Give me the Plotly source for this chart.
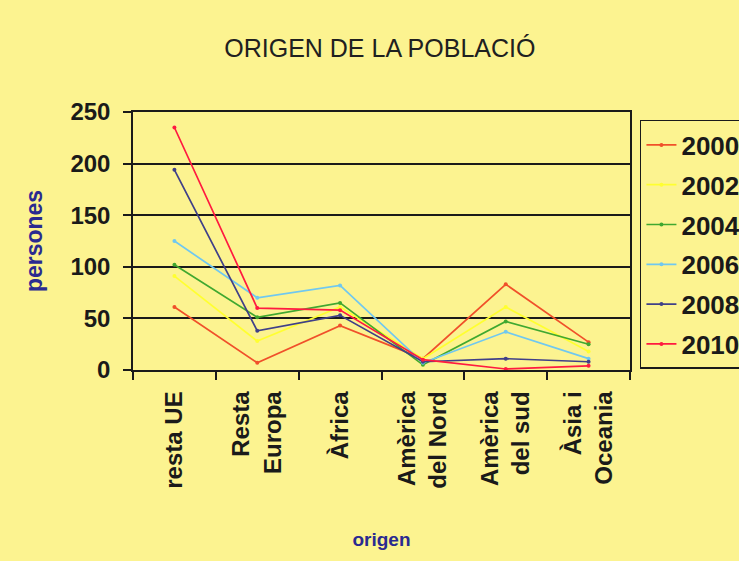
import plotly.graph_objects as go

categories = ["resta UE", "Resta<br>Europa", "Àfrica", "Amèrica<br>del Nord", "Amèrica<br>del sud", "Àsia i<br>Oceania"]
years = ["2000", "2002", "2004", "2006", "2008", "2010"]
v2000 = [61, 7, 43, 11, 83, 27]
v2002 = [91, 28, 61, 11, 61, 18]
v2004 = [102, 51, 65, 5, 47, 25]
v2006 = [125, 70, 82, 7, 37, 11]
v2008 = [194, 38, 53, 8, 11, 8]
v2010 = [235, 60, 58, 10, 1, 4]
series = [v2000, v2002, v2004, v2006, v2008, v2010]
colors = ["#f0502a", "#ffff30", "#40a830", "#70c8f0", "#404088", "#ff1a40"]

BG = "#fcf390"
FONT = "Liberation Sans, Arial, sans-serif"

fig = go.Figure()
for name, vals, col in zip(years, series, colors):
    fig.add_trace(go.Scatter(
        x=categories, y=vals, name=name, mode="lines+markers",
        line=dict(color=col, width=1.7),
        marker=dict(color=col, size=4),
        legendgroup=name,
    ))

fig.update_layout(
    width=739, height=561,
    paper_bgcolor=BG, plot_bgcolor=BG,
    margin=dict(l=133, r=109, t=112, b=191, autoexpand=False),
    title=dict(text="ORIGEN DE LA POBLACIÓ", x=0.514, xanchor="center", y=0.914, yanchor="middle",
               font=dict(family=FONT, size=25, color="#202020")),
    font=dict(family=FONT, color="#1a1a1a"),
    legend=dict(x=1.02, y=0.969, xanchor="left", yanchor="top",
                bgcolor=BG, bordercolor="#1a1a1a", borderwidth=1.5,
                font=dict(family=FONT, size=26, weight="bold", color="#1a1a1a"),
                tracegroupgap=3, itemwidth=30),
    showlegend=True,
)
fig.update_xaxes(
    type="category", tickson="boundaries", ticks="outside", ticklen=8, tickcolor="#1a1a1a", tickwidth=1.5,
    tickangle=-90, tickfont=dict(family=FONT, size=24, weight="bold", color="#1a1a1a"), ticklabelstandoff=10,
    showline=True, linecolor="#1a1a1a", linewidth=1.5, mirror=True,
    showgrid=False, automargin=False, range=[-0.5, 5.5],
    title=dict(text="origen", font=dict(family=FONT, size=19, weight="bold", color="#2a2a90"), standoff=45),
)
fig.update_yaxes(
    range=[0, 250], dtick=50, ticks="outside", ticklen=8, tickcolor="#1a1a1a", tickwidth=1.5,
    tickfont=dict(family=FONT, size=24, weight="bold", color="#1a1a1a"), ticklabelstandoff=8,
    showline=True, linecolor="#1a1a1a", linewidth=1.5, mirror=True,
    showgrid=True, gridcolor="#1a1a1a", gridwidth=1.5, zeroline=False, automargin=False,
    title=dict(text="persones", font=dict(family=FONT, size=23, weight="bold", color="#2a2a90"), standoff=21),
)
post = (
    "document.documentElement.style.overflow='hidden';"
    "document.body.style.overflow='hidden';"
    "document.body.style.margin='0';"
)
fig.write_html("out.html", post_script=post, config={"displayModeBar": False})
